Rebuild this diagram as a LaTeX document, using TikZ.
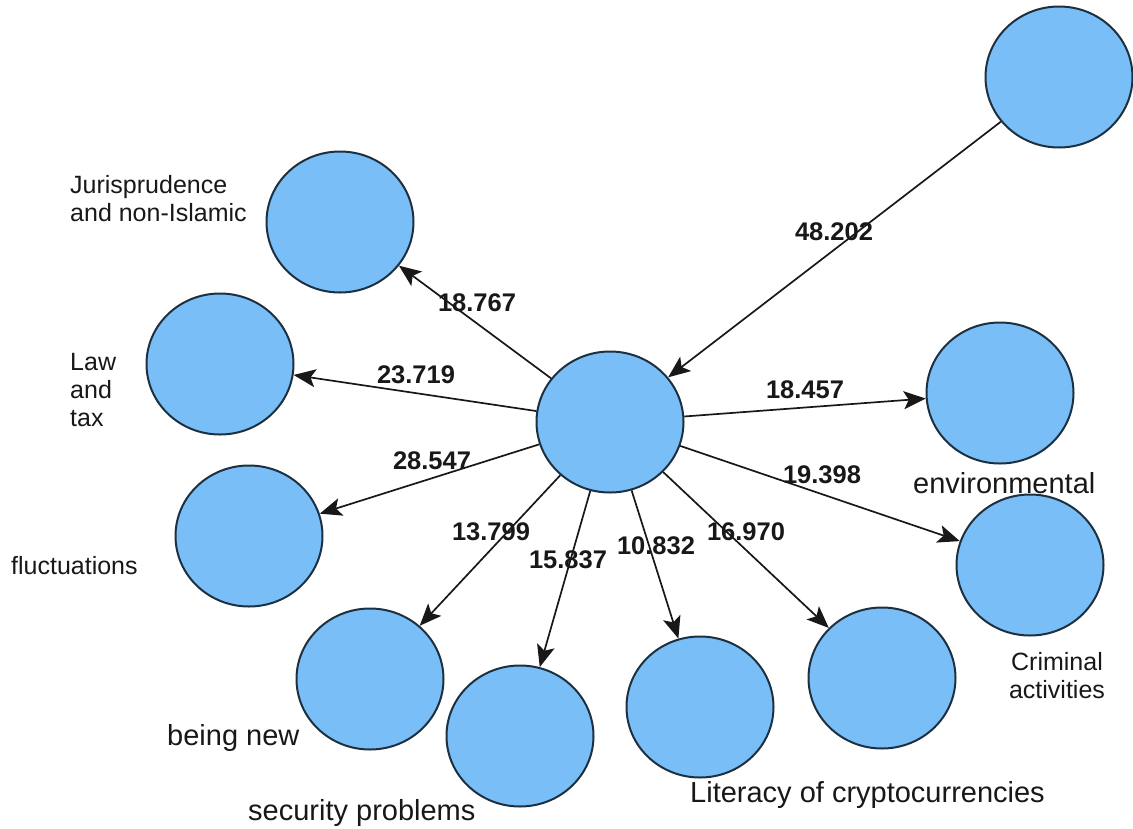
\documentclass[tikz,border=0pt]{standalone}
\usepackage{fontspec}
\setmainfont{Liberation Sans}
\usetikzlibrary{arrows.meta,shapes.geometric}
\definecolor{nodefill}{RGB}{122,190,248}
\definecolor{nodeline}{RGB}{28,48,64}
\definecolor{inkgray}{RGB}{24,24,24}
\begin{document}
\begin{tikzpicture}[x=1pt,y=-1pt,
  factor/.style={ellipse, draw=nodeline, line width=2pt, fill=nodefill,
    minimum width=147pt, minimum height=141pt, inner sep=0pt},
  link/.style={draw=inkgray, line width=1.7pt,
    -{Stealth[length=22pt,width=18pt,inset=5pt]}},
  weight/.style={font=\bfseries\fontsize{25.5}{28}\selectfont, text=inkgray, inner sep=0pt},
  caption/.style={font=\fontsize{25}{28}\selectfont, text=inkgray, inner sep=0pt, align=left},
  bigcaption/.style={font=\fontsize{29}{32}\selectfont, text=inkgray, inner sep=0pt}]

\useasboundingbox (0,0) rectangle (1133,828);

% factor circles
\node[factor] (hub)   at (610,422) {};
\node[factor] (src)   at (1059,77) {};
\node[factor] (juris) at (340,222) {};
\node[factor] (law)   at (220,364) {};
\node[factor] (fluct) at (249,536) {};
\node[factor] (newn)  at (370,679) {};
\node[factor] (secur) at (520,736) {};
\node[factor] (liter) at (700,707) {};
\node[factor] (lit2)  at (882,678) {};
\node[factor] (env)   at (1000,393) {};
\node[factor] (crim)  at (1030,565) {};

% weighted links
\draw[link] (src) -- (hub);
\draw[link] (hub) -- (juris);
\draw[link] (hub) -- (law);
\draw[link] (hub) -- (fluct);
\draw[link] (hub) -- (newn);
\draw[link] (hub) -- (secur);
\draw[link] (hub) -- (liter);
\draw[link] (hub) -- (lit2);
\draw[link] (hub) -- (env);
\draw[link] (hub) -- (crim);

% link weights
\node[weight] (w1)  at (834,232) {48.202};
\node[weight] (w2)  at (477,303) {18.767};
\node[weight] (w3)  at (416,375) {23.719};
\node[weight] (w4)  at (432,461) {28.547};
\node[weight] (w5)  at (805,390) {18.457};
\node[weight] (w6)  at (822,475) {19.398};
\node[weight] (w7)  at (491,532) {13.799};
\node[weight] (w8)  at (568,560) {15.837};
\node[weight] (w9)  at (656,546) {10.832};
\node[weight] (w10) at (746,532) {16.970};

% factor captions
\node[caption, anchor=west] (cjur) at (70,199) {Jurisprudence\\and non-Islamic};
\node[caption, anchor=west] (claw) at (70,390) {Law\\and\\tax};
\node[caption, anchor=west] (cflu) at (11,566) {fluctuations};
\node[bigcaption, anchor=west] (cnew) at (167,738) {being new};
\node[bigcaption, anchor=west] (csec) at (248,813) {security problems};
\node[bigcaption, anchor=west] (clit) at (690,795) {Literacy of cryptocurrencies};
\node[bigcaption, anchor=west] (cenv) at (913,483) {environmental};
\node[caption, align=center] (ccri) at (1057,676) {Criminal\\activities};
\end{tikzpicture}
\end{document}
